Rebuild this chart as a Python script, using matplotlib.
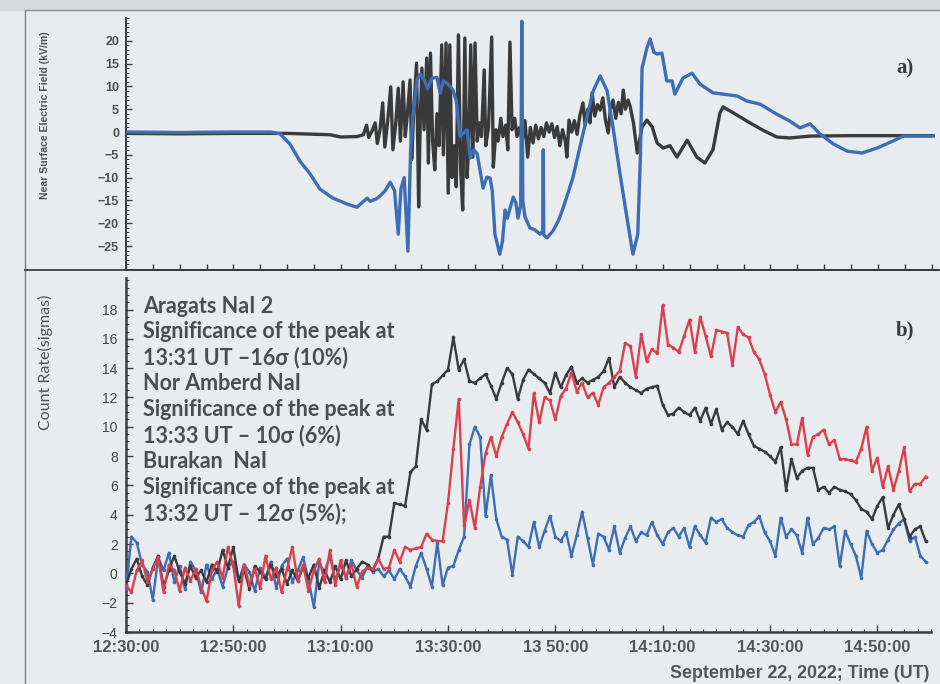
import numpy as np
import matplotlib
matplotlib.use('Agg')
import matplotlib.pyplot as plt
from matplotlib.ticker import MultipleLocator
from matplotlib.lines import Line2D

# ---- panel b): count rates (sigmas), one value per minute from 12:30 UT ----
aragats = [-0.8, 0.3, 1.0, -0.2, -0.8, 0.4, 1.2, -0.9, 0.2, 1.2,
           0.1, -0.7, 0.5, -0.3, 0.2, -0.6, 0.6, 0.1, 1.6, 0.4,
           1.8, -0.5, 0.3, -1.1, 0.5, 0.1, -0.4, 0.6, -0.2, 0.3,
           -0.7, 0.2, -0.5, 0.4, -0.3, 0.6, -1.0, 0.2, -0.6, 0.5,
           -0.4, 0.9, -0.2, 0.3, 0.8, 0.6, 0.2, 1.0, 2.5, 2.5,
           4.8, 4.7, 4.6, 6.9, 7.3, 10.5, 9.8, 12.9, 13.1, 13.5,
           13.9, 16.1, 13.9, 14.6, 13.1, 13.0, 13.3, 13.6, 12.8, 11.9,
           13.0, 14.0, 13.6, 11.9, 13.2, 13.9, 13.6, 13.3, 13.0, 12.3,
           13.7, 12.7, 13.5, 14.1, 13.0, 13.3, 13.0, 13.2, 13.4, 13.8,
           14.7, 12.7, 13.4, 13.0, 12.7, 12.5, 12.3, 12.6, 12.7, 12.8,
           11.5, 10.8, 10.9, 11.3, 11.0, 10.8, 11.3, 10.4, 11.3, 10.2,
           11.2, 9.8, 10.3, 10.0, 9.5, 10.4, 9.5, 8.7, 8.5, 8.3,
           8.0, 7.6, 8.6, 5.7, 7.8, 6.5, 7.0, 7.2, 7.2, 5.7,
           5.9, 5.5, 5.9, 5.7, 5.6, 5.4, 5.0, 4.4, 4.2, 3.7,
           4.6, 5.2, 3.1, 4.0, 4.7, 3.7, 2.5, 3.0, 3.2, 2.2]

nor_amberd = [-0.8, -1.3, 0.2, 0.9, -0.6, 0.3, 1.1, -1.3, 0.6, 0.2,
              -1.2, 0.4, -0.5, 0.3, -0.9, -1.9, 0.2, 0.8, -0.3, 1.8,
              0.5, -2.2, 0.6, -0.8, 0.3, -1.0, 1.2, -0.4, 0.4, -1.3,
              0.3, 1.8, -0.5, 0.6, -1.2, 0.2, 1.0, -0.6, 1.6, -0.8,
              0.9, -0.3, 0.6, -0.9, 0.1, 0.4, 0.3, 1.0, 0.3, 0.4,
              1.6, 0.8, 1.8, 1.6, 1.7, 1.8, 2.7, 2.3, 2.2, 2.2,
              4.8, 8.5, 11.9, 3.2, 5.0, 3.1, 5.9, 8.2, 9.3, 8.0,
              9.3, 10.2, 11.0, 10.3, 9.5, 8.5, 12.3, 10.3, 12.0, 11.8,
              10.5, 12.1, 12.6, 13.7, 12.4, 13.0, 12.0, 12.3, 11.5, 12.7,
              13.0, 13.4, 13.8, 15.7, 15.5, 13.4, 16.3, 14.5, 15.3, 15.0,
              18.3, 15.6, 15.4, 15.1, 16.2, 17.3, 15.1, 17.5, 16.2, 14.8,
              16.6, 16.5, 16.4, 14.2, 16.8, 16.3, 16.1, 15.1, 14.6, 13.6,
              12.2, 11.0, 11.7, 10.5, 8.8, 8.8, 10.6, 8.1, 9.3, 9.5,
              9.8, 8.8, 9.1, 7.8, 7.8, 7.7, 7.6, 8.5, 10.0, 7.0,
              7.9, 5.9, 7.3, 5.7, 7.0, 8.6, 5.6, 6.1, 6.1, 6.6]

burakan = [-1.1, 2.5, 2.1, 0.6, 0.1, -1.8, 1.1, 0.2, 1.4, -0.6,
           0.5, -1.1, 0.8, 0.2, -1.3, 0.6, -0.4, 0.3, -0.9, 0.4,
           0.8, -0.5, 0.6, 0.1, -1.2, 0.4, -0.3, 0.8, -1.0, 0.5,
           1.0, -0.6, 0.2, 1.1, -0.4, -2.3, 0.7, 0.1, 1.2, -0.5,
           0.6, -0.3, 0.9, 0.2, -0.3, 0.5, 0.1, 0.3, -0.2, 0.2,
           -0.4, 0.3, -0.2, -0.9, 0.5, 1.4, 0.3, -0.9, 2.1, -0.8,
           0.4, 0.5, 1.6, 2.5, 8.8, 10.0, 9.3, 3.9, 6.7, 3.7,
           2.5, 2.3, -0.1, 2.5, 2.2, 1.8, 3.5, 1.8, 2.9, 3.9,
           2.5, 2.2, 2.8, 1.2, 2.6, 4.2, 2.4, 0.6, 2.7, 2.5,
           1.6, 3.2, 1.4, 2.4, 3.2, 2.2, 2.8, 2.6, 3.5, 2.6,
           2.0, 2.8, 3.1, 2.5, 3.1, 1.8, 3.2, 2.6, 2.1, 3.8,
           3.5, 3.7, 3.1, 2.8, 2.6, 2.5, 3.3, 3.5, 3.9, 2.8,
           2.2, 1.2, 3.8, 2.5, 3.0, 2.6, 1.4, 3.8, 2.0, 2.4,
           3.1, 3.0, 3.2, 0.5, 2.9, 2.0, 1.2, -0.3, 2.9, 2.0,
           1.4, 1.6, 2.3, 3.0, 3.4, 3.7, 2.2, 2.5, 1.2, 0.8]

minutes = np.arange(len(aragats))  # minutes after 12:30 UT

# ---- panel a): near surface electric field (kV/m), minutes after 12:30 ----
ef_blue_t = [0, 10, 20, 27, 28.7, 30.5, 32.4, 34.3, 36.1, 38.5, 40, 41.2, 43, 44.9,
             45.5, 46.7, 47.5, 48.3, 49.2, 50, 50.7, 51.2, 51.8, 52.5, 53.0, 53.4,
             54.2, 54.8, 55.5, 56.2, 57, 57.9, 58.5, 59.1, 60, 60.9, 61.5, 62.2,
             63.5, 64.1, 64.8, 65.4, 66.5, 67.2, 67.8, 68.2, 68.7, 69.6, 70.1, 70.6,
             71, 72.1, 72.6, 73, 73.5, 73.7, 73.9, 74.3, 75.2, 76.2, 77.1, 77.6,
             77.7, 77.8, 78.4, 79.5, 80.5, 81.4, 83.2, 85.1, 87, 88.3, 89.6, 90.7,
             92, 93.3, 94.4, 95.3, 95.8, 96.1, 97.0, 97.6, 98.3, 98.9, 99.8, 100.7,
             101.7, 102.2, 103.7, 105.4, 106.9, 109.3, 113.8, 115.6, 118.1, 121.2,
             123.6, 125.5, 127.4, 129.2, 131.7, 134.3, 137.1, 139.9, 142.8, 144.7, 150.3]
ef_blue_v = [0.0, -0.1, 0.0, 0.0, -0.4, -2.6, -6.4, -9.2, -12.5, -14.5, -15.2, -15.8, -16.5, -14.5,
             -15.2, -14.6, -13.8, -12.8, -11.0, -12.8, -22.4, -12.5, -10.0, -26.1, -4.0, 3.0,
             11.4, 12.7, 11.5, 9.5, 11.8, 12.0, 8.5, 11.2, 10.5, 9.2, 6.8, -1.0,
             0.5, -5.7, -3.9, -4.8, -12.3, -9.9, -10.1, -12.8, -22.4, -26.8, -24.0, -17.1,
             -18.9, -14.3, -15.5, -18.9, -16.0, 24.3, -15.1, -18.6, -21.0, -21.5, -22.4, -21.8,
             -3.9, -22.6, -23.2, -21.7, -19.5, -16.7, -10.1, -0.4, 9.0, 12.3, 9.0, 0.9,
             -9.2, -18.9, -26.8, -22.4, -5.0, 14.0, 18.4, 20.4, 17.5, 17.1, 17.3, 11.2,
             11.2, 8.3, 11.8, 12.9, 10.5, 8.6, 7.9, 6.8, 6.1, 3.9,
             2.4, 0.9, 1.8, -0.4, -2.6, -4.2, -4.6, -3.5, -2.0, -0.9, -0.9]

ef_black_t = [0, 10, 20, 30, 38, 40, 43, 44.2, 44.8, 45.2, 45.8, 46.4, 46.8, 47.3, 47.8,
              48.2, 48.7, 49.3, 49.7, 50.2, 50.7, 51.1, 51.6, 52.0, 52.4, 52.9, 53.2,
              53.6, 54.1, 54.5, 54.8, 55.1, 55.5, 56.0, 56.3, 56.7, 57.1, 57.5, 57.9,
              58.3, 58.8, 59.1, 59.6, 60.0, 60.3, 60.7, 61.1, 61.5, 61.9, 62.3, 62.7,
              63.1, 63.5, 63.8, 64.2, 64.6, 65.0, 65.4, 65.8, 66.2, 66.7, 67.0, 67.5,
              68.1, 68.4, 68.9, 69.3, 69.8, 70.2, 70.7, 71.1, 71.5, 71.9, 72.4, 72.8,
              73.3, 73.8, 74.3, 74.8, 75.3, 75.8, 76.3, 76.8, 77.3, 77.8, 78.3, 78.8,
              79.3, 79.8, 80.3, 80.8, 81.3, 81.8, 82.1, 82.5, 83.0, 83.5, 84.0, 84.5,
              85.1, 85.5, 86.0, 86.4, 86.8, 87.3, 87.8, 88.3, 88.8, 89.3, 89.8, 90.2,
              90.7, 91.2, 91.7, 92.2, 92.6, 93.0, 93.5, 93.9, 94.5, 95.2, 96.1, 97.0,
              98.0, 98.9, 100.0, 101.3, 102.6, 104.5, 106.3, 107.8, 109.3, 110.6, 111.2,
              113.8, 116.2, 118.6, 121.2, 123.6, 127.4, 134.8, 150.3]
ef_black_v = [-0.3, -0.4, -0.3, -0.3, -0.6, -1.1, -1.0, -0.6, 1.5, -1.2, 0.2, 2.0, -2.5, 0.5, 6.4,
              -3.3, 2.0, 9.9, -3.9, 1.5, 9.6, -2.0, 11.0, -1.0, 4.0, 11.4, -6.0,
              5.0, 15.1, -16.4, 3.0, 14.0, 0.5, 16.2, -6.8, 17.3, -2.0, -8.3, 4.0,
              -3.0, 19.1, -5.0, 19.5, -13.4, 19.1, -10.0, -3.0, -12.0, 21.3, -8.0, -17.1,
              20.6, -10.0, -4.0, 19.1, -5.5, 19.5, -2.0, 2.0, -1.0, 13.6, -3.0, 1.0,
              20.8, -7.7, 0.5, -2.0, 3.0, -1.0, 1.5, -3.9, 19.7, 0.5, 3.0, -1.0,
              1.0, -2.0, 2.5, -5.5, 1.0, -2.4, 1.5, -1.5, 1.0, -1.0, 2.0, 0.0,
              1.8, -1.2, 1.2, -3.0, 0.5, -2.0, -5.5, 2.6, 0.0, 2.5, -0.5, 3.5,
              6.4, 1.5, 5.0, 2.0, 8.6, 3.5, 6.0, 4.8, 7.5, 2.5, -0.2, 5.0,
              7.0, 3.0, 6.5, 4.0, 9.2, 5.0, 7.0, 5.5, 2.0, -4.6, 1.1, 2.6,
              1.1, -2.4, -3.5, -3.0, -5.5, -1.8, -5.5, -6.8, -3.9, 4.2, 5.5,
              3.7, 2.0, 0.4, -1.1, -1.3, -0.9, -0.8, -0.8]

tick_pos = [0, 20, 40, 60, 80, 100, 120, 140]
tick_labels = ['12:30:00', '12:50:00', '13:10:00', '13:30:00',
               '13 50:00', '14:10:00', '14:30:00', '14:50:00']

note_lines = ['Aragats NaI 2', 'Significance of the peak at', '13:31 UT \u201316\u03c3 (10%)',
              'Nor Amberd NaI', 'Significance of the peak at', '13:33 UT \u2013 10\u03c3 (6%)',
              'Burakan  NaI', 'Significance of the peak at', '13:32 UT \u2013 12\u03c3 (5%);']

bg = '#e8ecef'
c_blue = '#3d6db4'
c_black = '#3a3a3a'
c_red = '#d8404e'
c_axis = '#3c3c3c'
c_text = '#4d4d4d'

W, H = 940, 684
fig = plt.figure(figsize=(W / 100, H / 100), dpi=100, facecolor=bg)


def fx(px):
    return px / W


def fy(py):
    return 1 - py / H


# page frame of the scanned figure
fig.patches.append(plt.Rectangle((0, fy(10)), 1, 10 / H, transform=fig.transFigure,
                                 color='#d6dadd', zorder=0))
fig.lines.append(Line2D([fx(25), fx(25)], [0, fy(10)], transform=fig.transFigure,
                        color='#7a7e82', lw=1.0))
fig.lines.append(Line2D([fx(25), 1], [fy(10), fy(10)], transform=fig.transFigure,
                        color='#8a8e92', lw=1.0))
fig.lines.append(Line2D([fx(25), 1], [fy(270), fy(270)], transform=fig.transFigure,
                        color=c_axis, lw=1.3, zorder=5))

# ---------------- panel a ----------------
ax1 = fig.add_axes([fx(126), fy(270), fx(938) - fx(126), fy(18) - fy(270)])
ax1.set_facecolor(bg)
ax1.plot(ef_black_t, ef_black_v, color=c_black, lw=2.4, zorder=3)
ax1.plot(ef_blue_t, ef_blue_v, color=c_blue, lw=2.4, zorder=4)
ax1.set_xlim(0, (938 - 126) / 5.37)
ax1.set_ylim(-30.26, 25)
ax1.yaxis.set_minor_locator(MultipleLocator(1))
ax1.set_yticks(np.arange(-25, 21, 5))
ax1.xaxis.set_major_locator(MultipleLocator(5))
ax1.set_xticklabels([])
for s in ['top', 'right']:
    ax1.spines[s].set_visible(False)
for s in ['left', 'bottom']:
    ax1.spines[s].set_color(c_axis)
    ax1.spines[s].set_linewidth(1.4)
ax1.tick_params(axis='y', which='major', direction='in', length=4, width=1.0,
                color=c_axis, pad=5, labelsize=9, labelcolor='#505050')
ax1.tick_params(axis='y', which='minor', direction='in', length=2, width=0.7, color=c_axis)
ax1.tick_params(axis='x', which='major', direction='in', length=4, width=1.0, color=c_axis)
for lab in ax1.get_yticklabels():
    lab.set_fontfamily('Liberation Sans')
    lab.set_fontweight('bold')
fig.text(fx(45), fy(115), 'Near Surface Electric Field (kV/m)', rotation=90,
         ha='center', va='center', fontsize=7.6, fontweight='bold',
         family='Liberation Sans', color='#505050')
fig.text(fx(905), fy(68), 'a)', ha='center', va='center', fontsize=15,
         fontweight='bold', family='Liberation Serif', color='#3a3a3a')

# ---------------- panel b ----------------
ax2 = fig.add_axes([fx(126), fy(632), fx(931) - fx(126), fy(278) - fy(632)])
ax2.set_facecolor(bg)
ax2.plot(minutes, burakan, color=c_blue, lw=1.7, marker='o', ms=1.6, zorder=3)
ax2.plot(minutes, aragats, color=c_black, lw=1.7, marker='o', ms=1.6, zorder=4)
ax2.plot(minutes, nor_amberd, color=c_red, lw=1.7, marker='o', ms=1.6, zorder=5)
ax2.set_xlim(0, 150)
ax2.set_ylim(-4, 20.15)
ax2.set_yticks(np.arange(-4, 19, 2))
ax2.yaxis.set_minor_locator(MultipleLocator(0.5))
ax2.set_xticks(tick_pos)
ax2.set_xticklabels(tick_labels)
ax2.xaxis.set_minor_locator(MultipleLocator(2.5))
for s in ['top', 'right']:
    ax2.spines[s].set_visible(False)
for s in ['left', 'bottom']:
    ax2.spines[s].set_color(c_axis)
    ax2.spines[s].set_linewidth(1.8)
ax2.tick_params(axis='y', which='major', direction='in', length=5, width=1.0,
                color=c_axis, pad=6, labelsize=10, labelcolor='#444444')
ax2.tick_params(axis='y', which='minor', direction='in', length=2.5, width=0.8, color=c_axis)
ax2.tick_params(axis='x', which='major', direction='in', length=5, width=1.0,
                color=c_axis, pad=6, labelsize=12, labelcolor='#555555')
ax2.tick_params(axis='x', which='minor', direction='in', length=2.5, width=0.8, color=c_axis)
for lab in ax2.get_yticklabels():
    lab.set_fontfamily('Liberation Sans')
for lab in ax2.get_xticklabels():
    lab.set_fontfamily('Liberation Sans')
    lab.set_fontweight('bold')

fig.text(fx(45), fy(362), 'Count Rate(sigmas)', rotation=90, ha='center', va='center',
         fontsize=11.5, family='Lato', color='#505050')
fig.text(fx(930), fy(674), 'September 22, 2022; Time (UT)', ha='right', va='center',
         fontsize=12.8, fontweight='bold', family='Liberation Sans', color='#555555')
fig.text(fx(905), fy(330), 'b)', ha='center', va='center', fontsize=15,
         fontweight='bold', family='Liberation Serif', color='#3a3a3a')

for i, line in enumerate(note_lines):
    fig.text(fx(143), fy(306 + i * 25.9), line, ha='left', va='center', fontsize=15.5,
             fontweight='bold', family=['Lato', 'DejaVu Sans'], color=c_text)

fig.savefig('out.png', dpi=100, facecolor=bg)
